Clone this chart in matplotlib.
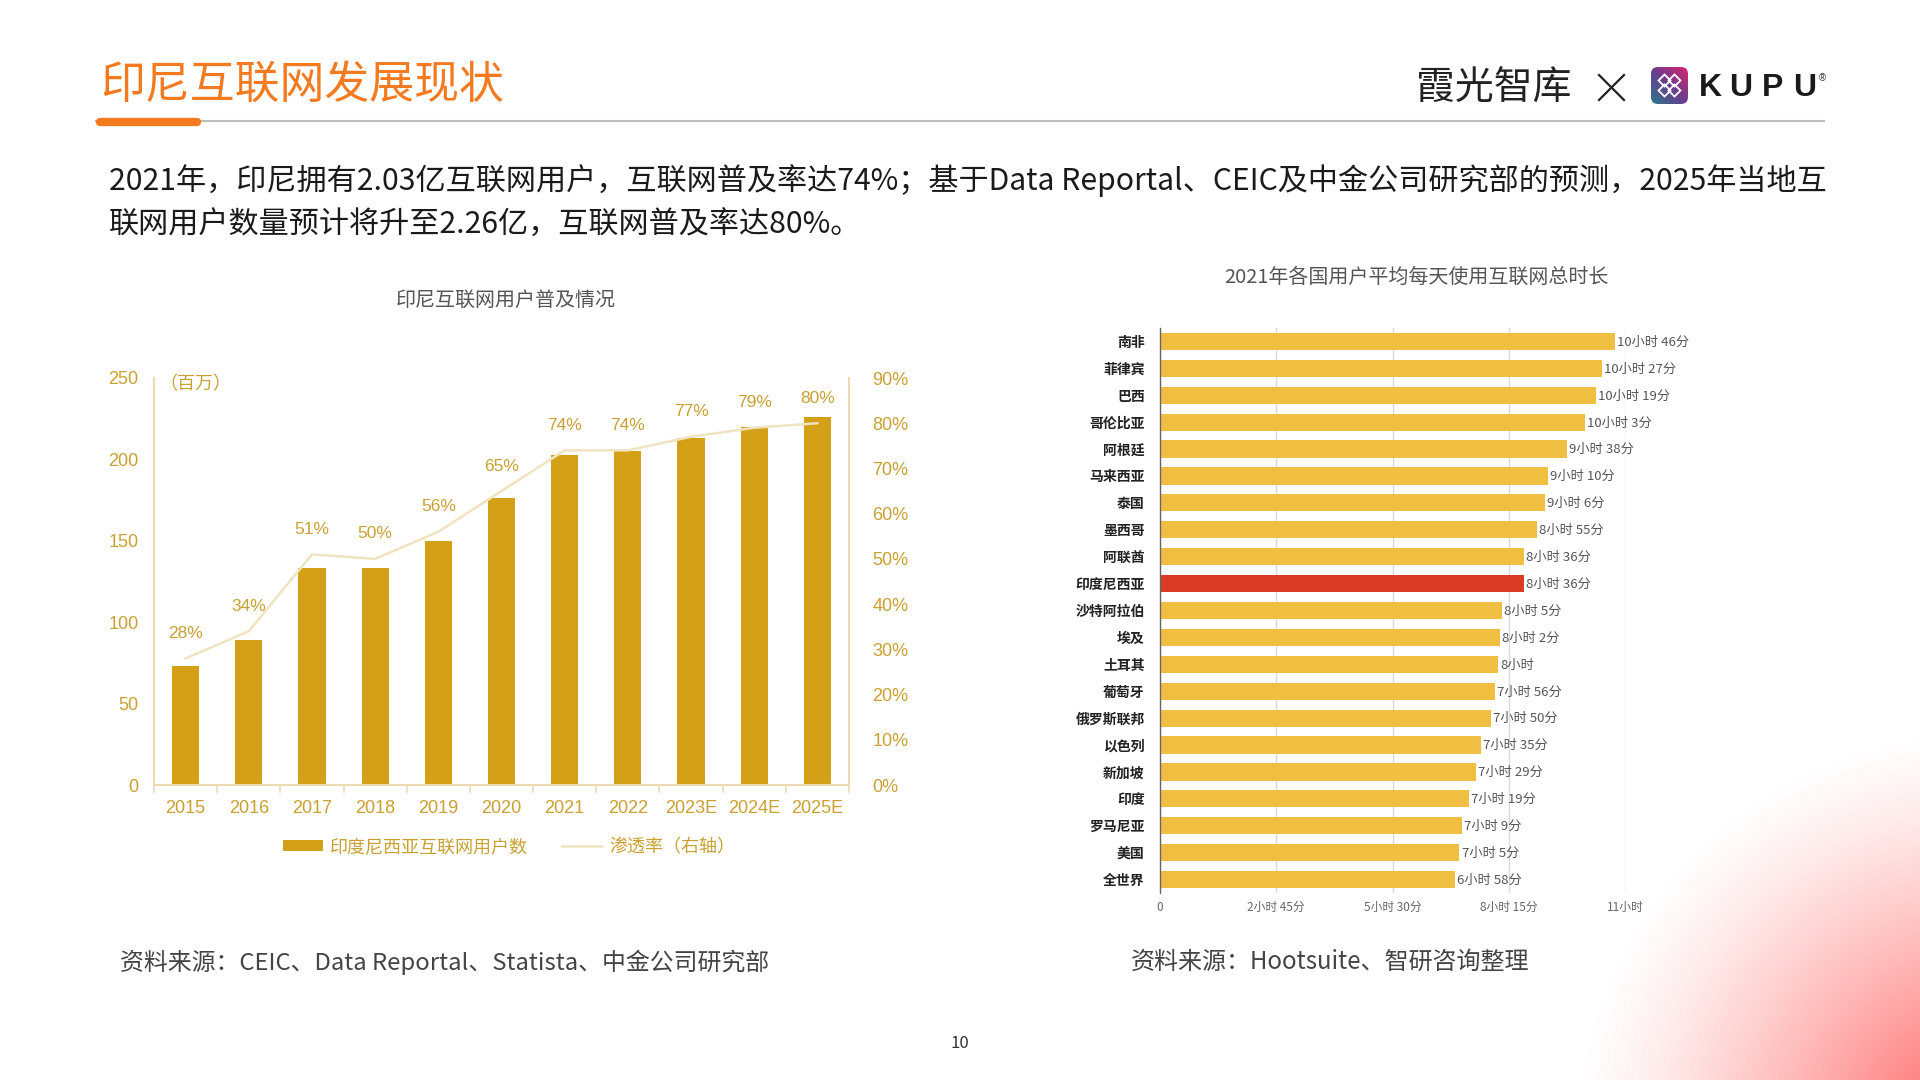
import numpy as np
import matplotlib
matplotlib.use('Agg')
import matplotlib.pyplot as plt
from matplotlib.patches import Patch, FancyBboxPatch, Polygon
from matplotlib.lines import Line2D

plt.rcParams['font.family'] = ['Noto Sans CJK SC', 'DejaVu Sans']

# ---------------- data ----------------
years = ['2015', '2016', '2017', '2018', '2019', '2020', '2021', '2022', '2023E', '2024E', '2025E']
users_million = [73, 89, 133, 133, 150, 176, 203, 205, 213, 220, 226]
penetration_pct = [28, 34, 51, 50, 56, 65, 74, 74, 77, 79, 80]
left_yticks = [0, 50, 100, 150, 200, 250]
right_yticks = [0, 10, 20, 30, 40, 50, 60, 70, 80, 90]

countries = ['南非', '菲律宾', '巴西', '哥伦比亚', '阿根廷', '马来西亚', '泰国', '墨西哥', '阿联酋',
             '印度尼西亚', '沙特阿拉伯', '埃及', '土耳其', '葡萄牙', '俄罗斯联邦', '以色列', '新加坡',
             '印度', '罗马尼亚', '美国', '全世界']
daily_minutes = [646, 627, 619, 603, 578, 550, 546, 535, 516, 516, 485, 482, 480, 476, 470, 455, 449,
                 439, 429, 425, 418]
time_labels = ['10小时 46分', '10小时 27分', '10小时 19分', '10小时 3分', '9小时 38分', '9小时 10分',
               '9小时 6分', '8小时 55分', '8小时 36分', '8小时 36分', '8小时 5分', '8小时 2分', '8小时',
               '7小时 56分', '7小时 50分', '7小时 35分', '7小时 29分', '7小时 19分', '7小时 9分',
               '7小时 5分', '6小时 58分']
time_ticks = [0, 165, 330, 495, 660]
time_tick_labels = ['0', '2小时 45分', '5小时 30分', '8小时 15分', '11小时']
highlight_country = '印度尼西亚'

# ---------------- styles ----------------
GOLD = '#D4A017'
GOLD_TXT = '#C9A031'
BEIGE = '#EADBB3'
LINE_BEIGE = '#F0E3BF'
ORANGE = '#F47A20'
BAR_Y = '#F0BE41'
BAR_R = '#D93A26'
LATIN = ['Liberation Sans', 'Noto Sans CJK SC']

W, H = 1920, 1080
fig = plt.figure(figsize=(19.2, 10.8), dpi=100)
fig.patch.set_facecolor('white')

# background / page layer in pixel coordinates
bg = fig.add_axes([0, 0, 1, 1], zorder=-10)
bg.set_xlim(0, W)
bg.set_ylim(H, 0)
bg.axis('off')

# bottom-right radial gradient
yy, xx = np.mgrid[0:H:2, 0:W:2]
r = np.hypot(xx - 1980, yy - 1135)
alpha = np.clip(1 - r / 410.0, 0, 1) ** 1.3
img = np.zeros(xx.shape + (4,))
img[..., 0] = 1.0
img[..., 1] = 0.36
img[..., 2] = 0.36
img[..., 3] = alpha
bg.imshow(img, extent=[0, W, H, 0], aspect='auto', interpolation='bilinear', zorder=0)

# header
bg.text(100, 86, '印尼互联网发展现状', fontsize=32.3, color=ORANGE, ha='left', va='center')
bg.plot([96, 1824], [121, 121], color='#BDBDBD', lw=1.5, zorder=2)
bg.plot([100, 197], [122, 122], color=ORANGE, lw=6, solid_capstyle='round', zorder=3)

# logos
bg.text(1416, 89, '霞光智库', fontsize=28, color='#222222', ha='left', va='center')
bg.plot([1599, 1624], [75, 100], color='#222222', lw=1.6)
bg.plot([1599, 1624], [100, 75], color='#222222', lw=1.6)
sq = FancyBboxPatch((1651, 67), 37, 37, boxstyle='round,pad=0,rounding_size=7',
                    transform=bg.transData, facecolor='none', edgecolor='none')
bg.add_patch(sq)
gy, gx = np.mgrid[0:1:64j, 0:1:64j]
t = (gx + (1 - gy)) / 2.0
c0 = np.array([0.16, 0.47, 0.55])
c1 = np.array([0.42, 0.24, 0.55])
c2 = np.array([0.85, 0.14, 0.43])
grad = np.where(t[..., None] < 0.5,
                c0 + (c1 - c0) * (t[..., None] / 0.5),
                c1 + (c2 - c1) * ((t[..., None] - 0.5) / 0.5))
im = bg.imshow(grad, extent=[1651, 1688, 104, 67], aspect='auto', zorder=4)
im.set_clip_path(sq)
cx, cy, d = 1669.5, 85.5, 6
for ox, oy in [(-5, -5), (5, -5), (-5, 5), (5, 5)]:
    bg.add_patch(Polygon([(cx + ox, cy + oy - d), (cx + ox + d, cy + oy), (cx + ox, cy + oy + d),
                          (cx + ox - d, cy + oy)], closed=True, fill=False, edgecolor='white',
                         lw=1.3, zorder=5))
for xl, ch in zip([1710, 1741, 1773, 1805], 'KUPU'):
    bg.text(xl, 88, ch, fontsize=23, fontweight='bold', color='#1a1a1a', ha='center', va='center',
            family=LATIN)
bg.text(1822, 78, '®', fontsize=7, color='#333333', ha='center', va='center', family=LATIN)

# body text
bg.text(109, 181, '2021年，印尼拥有2.03亿互联网用户，互联网普及率达74%；基于Data Reportal、CEIC及中金公司研究部的预测，2025年当地互',
        fontsize=21.7, color='#1a1a1a', ha='left', va='center')
bg.text(109, 225, '联网用户数量预计将升至2.26亿，互联网普及率达80%。',
        fontsize=21.7, color='#1a1a1a', ha='left', va='center')

# chart titles
bg.text(506, 300, '印尼互联网用户普及情况', fontsize=14.4, color='#555555', ha='center', va='center')
bg.text(1416, 277, '2021年各国用户平均每天使用互联网总时长', fontsize=14.4, color='#555555',
        ha='center', va='center')

# sources and page number
bg.text(120, 962, '资料来源：CEIC、Data Reportal、Statista、中金公司研究部', fontsize=17.2,
        color='#444444', ha='left', va='center')
bg.text(1131, 962, '资料来源：Hootsuite、智研咨询整理', fontsize=17.3, color='#444444',
        ha='left', va='center')
bg.text(960, 1044, '10', fontsize=12, color='#333333', ha='center', va='center')

# ---------------- left chart ----------------
ax1 = fig.add_axes([154 / W, 1 - 785 / H, (849 - 154) / W, (785 - 378) / H])
x = np.arange(len(years))
ax1.bar(x, users_million, width=0.43, color=GOLD, zorder=2)
ax1.set_xlim(-0.5, len(years) - 0.5)
ax1.set_ylim(0, 250)
ax1.set_yticks(left_yticks)
ax1.set_xticks(x)
ax1.set_xticklabels(years)
ax1.set_xticks(np.arange(-0.5, len(years), 1.0), minor=True)
ax1.tick_params(axis='x', which='major', length=0, pad=11, labelsize=13, labelcolor=GOLD_TXT)
ax1.tick_params(axis='x', which='minor', length=6, color=BEIGE, width=1.2, direction='out')
ax1.tick_params(axis='y', length=0, pad=11, labelsize=13, labelcolor=GOLD_TXT)
for lab in ax1.get_xticklabels() + ax1.get_yticklabels():
    lab.set_family(LATIN)
for s in ['top', 'right']:
    ax1.spines[s].set_visible(False)
for s in ['left', 'bottom']:
    ax1.spines[s].set_color(BEIGE)
    ax1.spines[s].set_linewidth(1.5)
ax1.text(-0.42, 246, '（百万）', fontsize=13, color=GOLD_TXT, ha='left', va='center')

ax2 = ax1.twinx()
ax2.plot(x, penetration_pct, color=LINE_BEIGE, lw=1.8, zorder=3)
ax2.set_ylim(0, 90)
ax2.set_yticks(right_yticks)
ax2.set_yticklabels([f'{v}%' for v in right_yticks])
ax2.tick_params(axis='y', length=0, pad=17, labelsize=13, labelcolor=GOLD_TXT)
for lab in ax2.get_yticklabels():
    lab.set_family(LATIN)
for s in ['top', 'left', 'bottom']:
    ax2.spines[s].set_visible(False)
ax2.spines['right'].set_color(BEIGE)
ax2.spines['right'].set_linewidth(1.5)
for xi, p in zip(x, penetration_pct):
    ax2.annotate(f'{p}%', (xi, p), xytext=(0, 18), textcoords='offset points', ha='center',
                 va='center', fontsize=12.5, color=GOLD_TXT, family=LATIN)

handles = [Patch(facecolor=GOLD, edgecolor='none', label='印度尼西亚互联网用户数'),
           Line2D([0], [0], color=LINE_BEIGE, lw=1.8, label='渗透率（右轴）')]
leg = fig.legend(handles=handles, loc='center', bbox_to_anchor=(509 / W, 1 - 847 / H), ncol=2,
                 frameon=False, fontsize=13, handlelength=2.2, handleheight=0.6, handletextpad=0.4,
                 columnspacing=1.9)
for ttxt in leg.get_texts():
    ttxt.set_color(GOLD_TXT)

# ---------------- right chart ----------------
ax3 = fig.add_axes([1160 / W, 1 - 893 / H, (1625 - 1160) / W, (893 - 328) / H])
yy3 = np.arange(len(countries))
colors = [BAR_R if c == highlight_country else BAR_Y for c in countries]
ax3.barh(yy3, daily_minutes, height=0.64, color=colors, zorder=2)
ax3.set_ylim(len(countries) - 0.5, -0.5)
ax3.set_xlim(0, 660)
ax3.set_yticks(yy3)
ax3.set_yticklabels(countries)
ax3.set_xticks(time_ticks)
ax3.set_xticklabels(time_tick_labels)
ax3.tick_params(axis='y', length=0, pad=11, labelsize=10, labelcolor='#222222')
ax3.tick_params(axis='x', length=0, pad=6, labelsize=8.5, labelcolor='#666666')
for lab in ax3.get_yticklabels():
    lab.set_fontweight('bold')
ax3.xaxis.grid(True, color='#D9D9D9', lw=1, zorder=0)
ax3.set_axisbelow(True)
for s in ['top', 'right', 'bottom']:
    ax3.spines[s].set_visible(False)
ax3.spines['left'].set_color('#666666')
ax3.spines['left'].set_linewidth(1)
for yi, v, lbl in zip(yy3, daily_minutes, time_labels):
    ax3.annotate(lbl, (v, yi), xytext=(1.5, -0.5), textcoords='offset points', ha='left',
                 va='center', fontsize=9.5, color='#555555', annotation_clip=False)

fig.savefig('out.png', dpi=100, facecolor='white')
